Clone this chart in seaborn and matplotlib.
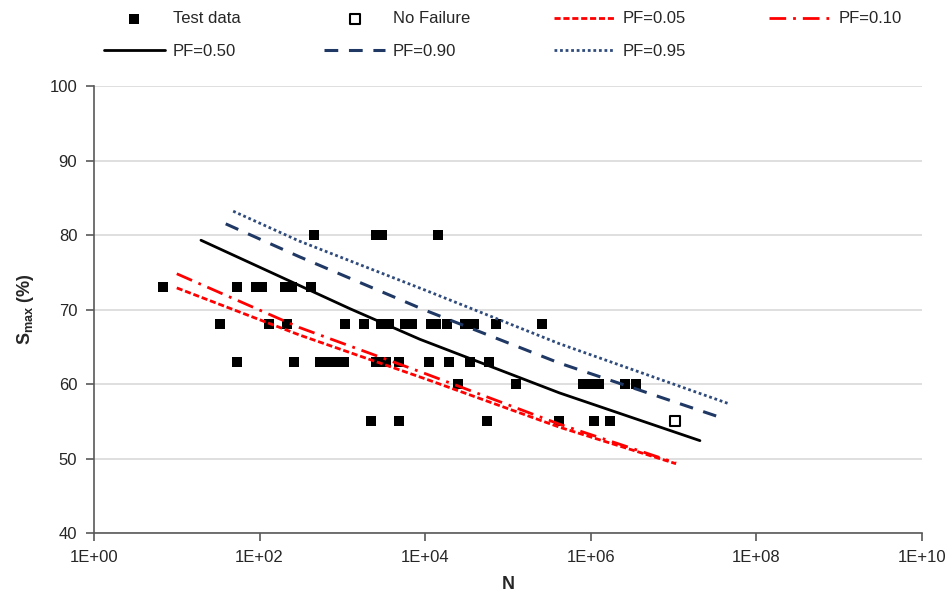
import matplotlib
matplotlib.use('Agg')
import matplotlib.pyplot as plt
from matplotlib.ticker import FixedLocator, FuncFormatter
import numpy as np
import pandas as pd
import seaborn as sns

# test data (cycles to failure, stress level %)
n_80 = [454, 2550, 3000, 14300]
n_73 = [6.8, 53, 90, 107, 203, 246, 418]
n_68 = [33, 130, 214, 1075, 1820, 2920, 3650, 5700, 6930, 11800, 13500,
        18300, 30000, 38500, 71600, 258000]
n_63 = [53, 260, 536, 670, 837, 1045, 2550, 3360, 4830, 11100, 19400,
        34700, 59000]
n_60 = [24900, 125000, 805000, 1005000, 1256000, 2590000, 3520000]
n_55 = [2215, 4830, 55800, 413000, 1094000, 1706000]

runout_n = [1.04e7]
runout_s = [55]

# P-S-N curves
pf05_n = [10, 300, 1e4, 4.2e5, 1.07e7]
pf05_s = [72.9, 66.6, 60.7, 54.2, 49.3]
pf10_n = [10, 300, 1e4, 4.2e5, 1.07e7]
pf10_s = [74.8, 67.6, 61.4, 54.6, 49.4]
pf50_n = [19.6, 1240, 8650, 4.2e5, 2.08e7]
pf50_s = [79.3, 70.1, 66.0, 58.8, 52.4]
pf90_n = [39, 300, 1e4, 4.2e5, 4.2e7]
pf90_s = [81.5, 77.1, 69.9, 62.8, 55.3]
pf95_n = [48, 300, 1e4, 4.2e5, 4.8e7]
pf95_s = [83.2, 79.2, 72.6, 65.4, 57.3]

test = pd.DataFrame({
    'N': n_80 + n_73 + n_68 + n_63 + n_60 + n_55,
    'S': [80] * len(n_80) + [73] * len(n_73) + [68] * len(n_68)
         + [63] * len(n_63) + [60] * len(n_60) + [55] * len(n_55),
})
runout = pd.DataFrame({'N': runout_n, 'S': runout_s})

curves = [
    ('PF=0.05', pf05_n, pf05_s, 'red', (0, (2.2, 1.0)), 2.0),
    ('PF=0.10', pf10_n, pf10_s, 'red', (0, (6, 2.5, 1, 2.5)), 2.0),
    ('PF=0.50', pf50_n, pf50_s, 'black', '-', 2.0),
    ('PF=0.90', pf90_n, pf90_s, '#1f3864', (0, (4.5, 3.5)), 2.2),
    ('PF=0.95', pf95_n, pf95_s, '#2f4b7c', (0, (1, 1)), 2.0),
]

sns.set_style('white')
plt.rcParams['font.family'] = ['Liberation Sans', 'DejaVu Sans']
plt.rcParams['mathtext.fontset'] = 'custom'
plt.rcParams['mathtext.bf'] = 'Liberation Sans:bold'
plt.rcParams['mathtext.rm'] = 'Liberation Sans'

fig = plt.figure(figsize=(9.52, 6.02), dpi=100)
ax = fig.add_axes([0.0987, 0.1146, 0.8698, 0.7425])

sns.scatterplot(data=test, x='N', y='S', marker='s', s=60, color='black',
                edgecolor='black', linewidth=0, ax=ax, label='Test data')
sns.scatterplot(data=runout, x='N', y='S', marker='s', s=45, color='white',
                edgecolor='black', linewidth=1.5, ax=ax, label='No Failure')

for name, xs, ys, col, ls, lw in curves:
    d = pd.DataFrame({'N': xs, 'S': ys})
    sns.lineplot(data=d, x='N', y='S', color=col, linestyle=ls, linewidth=lw,
                 ax=ax, label=name, sort=False)

ax.set_xscale('log')
ax.set_xlim(1, 1e10)
ax.set_ylim(40, 100)
ax.xaxis.set_major_locator(FixedLocator([1, 1e2, 1e4, 1e6, 1e8, 1e10]))
ax.xaxis.set_minor_locator(FixedLocator([]))
ax.xaxis.set_major_formatter(FuncFormatter(lambda v, p: '1E+%02d' % round(np.log10(v))))
ax.set_yticks(range(40, 101, 10))

ax.grid(axis='y', color='#d9d9d9', linewidth=1.2)
ax.grid(axis='x', visible=False)
for s in ['top', 'right']:
    ax.spines[s].set_visible(False)
for s in ['left', 'bottom']:
    ax.spines[s].set_color('#595959')
    ax.spines[s].set_linewidth(1.2)
ax.tick_params(axis='both', which='major', direction='out', length=6,
               width=1.2, color='#595959', labelsize=12, labelcolor='#262626',
               bottom=True, left=True, pad=6)

ax.set_xlabel('N', fontsize=13, fontweight='bold', labelpad=8)
ax.set_ylabel(r'$\mathbf{S_{max}}$ (%)', fontsize=13, fontweight='bold', labelpad=10)

h, l = ax.get_legend_handles_labels()
ax.get_legend().remove()
order = ['Test data', 'PF=0.50', 'No Failure', 'PF=0.90', 'PF=0.05', 'PF=0.95', 'PF=0.10']
hh = [h[l.index(k)] for k in order]
fig.legend(hh, order, loc='upper left', bbox_to_anchor=(0.093, 1.006), ncol=4,
           frameon=False, fontsize=12, handlelength=3.7, handletextpad=0.45,
           columnspacing=5.0, labelspacing=1.05)

fig.savefig('out.png', dpi=100)
